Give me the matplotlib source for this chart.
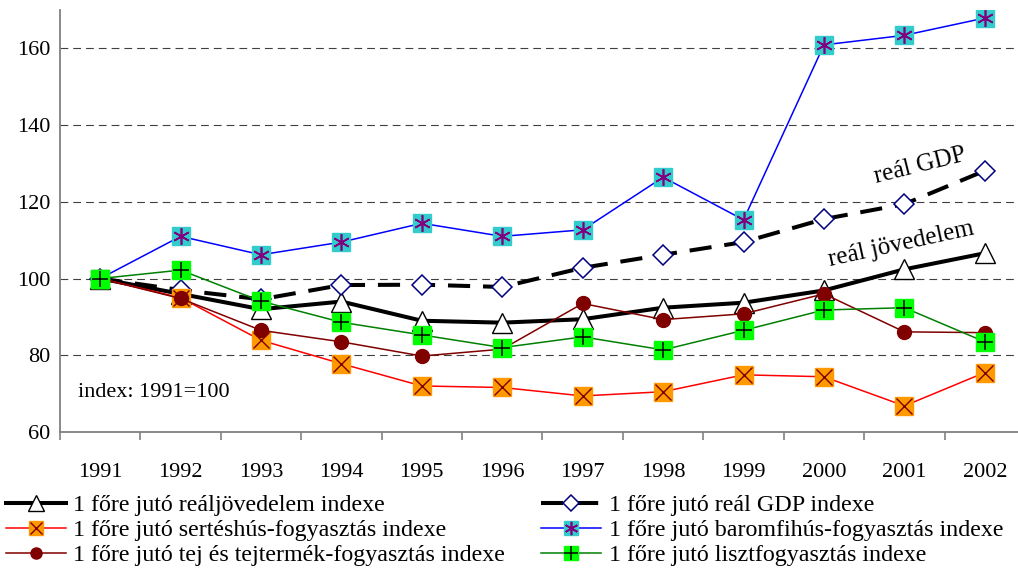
import numpy as np
import matplotlib
matplotlib.use('Agg')
import matplotlib.pyplot as plt

plt.rcParams['font.family'] = ['Liberation Serif', 'DejaVu Serif']

years = ['1991', '1992', '1993', '1994', '1995', '1996',
         '1997', '1998', '1999', '2000', '2001', '2002']
jovedelem = [100, 96, 92, 94, 89, 88.5, 89.4, 92.4, 93.7, 96.9, 102.4, 106.6]
gdp = [100, 97, 94.6, 98.3, 98.4, 97.8, 102.8, 106.2, 109.5, 115.5, 119.4, 128.1]
sertes = [100, 95, 83.9, 77.8, 72, 71.6, 69.4, 70.5, 74.9, 74.4, 66.8, 75.5]
baromfi = [100, 111, 106.2, 109.5, 114.4, 111, 112.7, 126.4, 115.3, 160.9, 163.4, 167.9]
tej = [100, 94.8, 86.5, 83.5, 79.8, 81.6, 93.5, 89.3, 90.8, 96, 86.1, 85.9]
liszt = [100, 102.2, 94.1, 88.6, 85.3, 82, 84.8, 81.4, 86.5, 91.8, 92.4, 83.5]

labels = ['1 főre jutó reáljövedelem indexe',
          '1 főre jutó sertéshús-fogyasztás indexe',
          '1 főre jutó tej és tejtermék-fogyasztás indexe',
          '1 főre jutó reál GDP indexe',
          '1 főre jutó baromfihús-fogyasztás indexe',
          '1 főre jutó lisztfogyasztás indexe']

x = np.arange(len(years))

fig = plt.figure(figsize=(10.18, 5.77), dpi=100)
ax = fig.add_axes([0.0589, 0.2513, 0.948, 0.7314])

# gridlines
for v in [80, 100, 120, 140, 160]:
    ax.axhline(v, color='0.25', lw=0.8, linestyle=(0, (7, 4.5)), zorder=0)

l_jov, = ax.plot(x, jovedelem, color='black', lw=2.9, marker='^', ms=15,
                 mfc='white', mec='black', mew=1.0, zorder=3)
l_gdp, = ax.plot(x, gdp, color='black', lw=2.9, linestyle=(0, (5.5, 3.2)),
                 marker='D', ms=10, mfc='white', mec='#000080', mew=1.1, zorder=3)

l_ser, = ax.plot(x, sertes, color='#FF0000', lw=1.1, marker='s', ms=13,
                 mfc='#FF9900', mec='#FF9900', zorder=4)
o_ser, = ax.plot(x, sertes, linestyle='none', marker='x', ms=11,
                 mec='#800000', mew=1.0, zorder=4)

l_bar, = ax.plot(x, baromfi, color='#0000FF', lw=1.1, marker='s', ms=13,
                 mfc='#33CCCC', mec='#33CCCC', zorder=4)
o_bar, = ax.plot(x, baromfi, linestyle='none', marker=(6, 2, 0), ms=12,
                 mec='#800080', mew=1.2, zorder=4)

l_tej, = ax.plot(x, tej, color='#800000', lw=1.1, marker='o', ms=10,
                 mfc='#800000', mec='#800000', zorder=5)

l_lis, = ax.plot(x, liszt, color='#008000', lw=1.1, marker='s', ms=13,
                 mfc='#00FF00', mec='#00FF00', zorder=6)
o_lis, = ax.plot(x, liszt, linestyle='none', marker='+', ms=12,
                 mec='black', mew=1.1, zorder=6)

ax.text(10.2, 129.4, 'reál GDP', fontsize=18, rotation=14,
        ha='center', va='center', rotation_mode='anchor')
ax.text(9.96, 109, 'reál jövedelem', fontsize=18, rotation=12.4,
        ha='center', va='center', rotation_mode='anchor')
ax.text(-0.27, 70.2, 'index: 1991=100', fontsize=16, ha='left', va='center')

ax.set_xlim(-0.5, 11.5)
ax.set_ylim(60, 170)
ax.set_yticks([60, 80, 100, 120, 140, 160])
ax.set_xticks(x)
ax.set_xticklabels(years)
ax.set_xticks(np.arange(-0.5, 12, 1), minor=True)
ax.tick_params(axis='x', which='major', length=0, pad=22, labelsize=16)
ax.tick_params(axis='x', which='minor', length=6, width=1.2, color='#808080', direction='out')
ax.tick_params(axis='y', length=0, pad=7, labelsize=16)

for s in ['top', 'right']:
    ax.spines[s].set_visible(False)
for s in ['left', 'bottom']:
    ax.spines[s].set_color('#808080')
    ax.spines[s].set_linewidth(1.3)

handles = [l_jov, (l_ser, o_ser), l_tej, l_gdp, (l_bar, o_bar), (l_lis, o_lis)]
fig.legend(handles, labels, ncol=2, loc='upper left', bbox_to_anchor=(0.006, 0.143),
           frameon=False, fontsize=17.3, handlelength=2.5, handletextpad=0.3,
           labelspacing=0.13, columnspacing=1.5, borderpad=0, borderaxespad=0,
           numpoints=1, markerscale=0.8)

fig.savefig('out.png', dpi=100)
